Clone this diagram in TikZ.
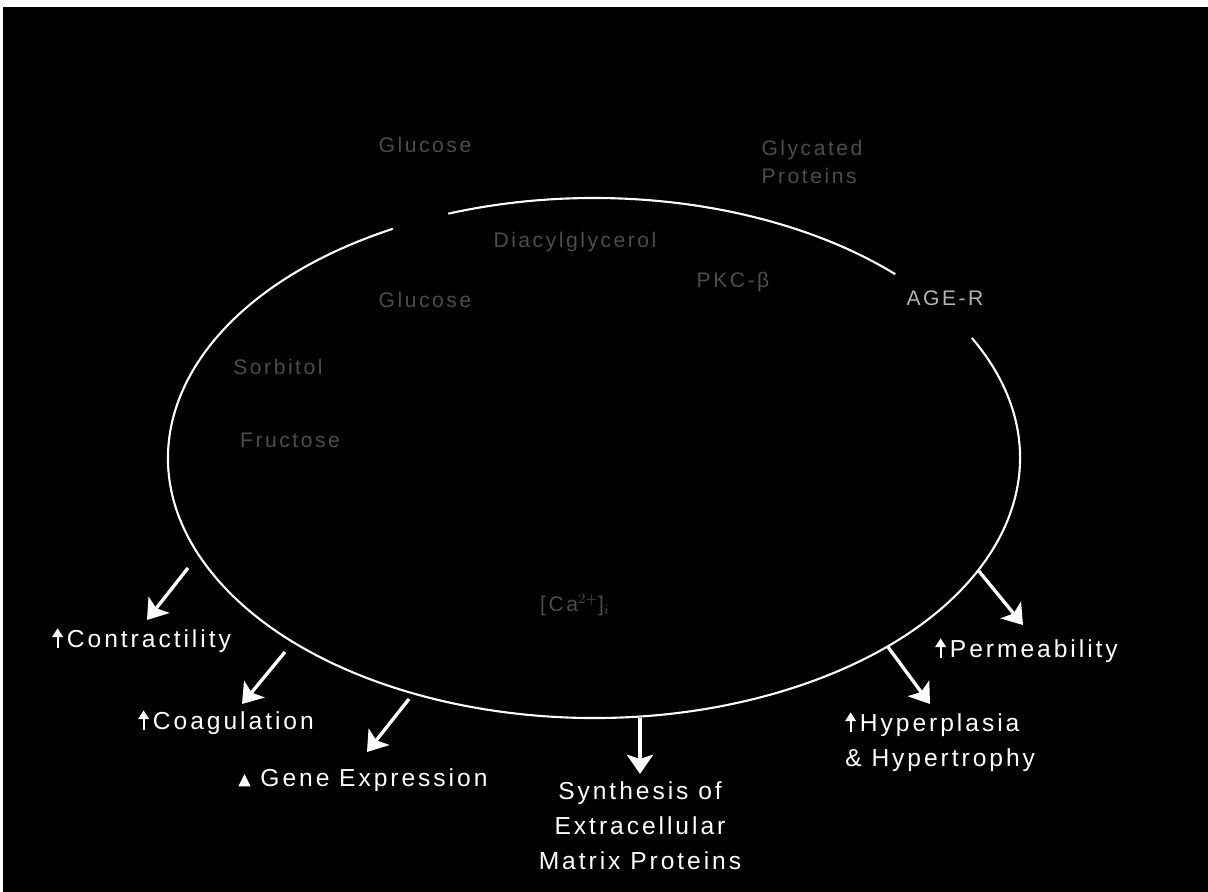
\documentclass[tikz,border=0pt]{standalone}
\usepackage{fontspec}
\setmainfont{Liberation Sans}[LetterSpace=12]
\usetikzlibrary{arrows.meta,positioning}

\definecolor{dimtext}{gray}{0.30}
\newcommand{\uparr}{\tikz[baseline=0pt]\draw[draw=white,fill=white,line width=1.2pt,-{Triangle[length=5pt,width=6pt]}] (0pt,0pt) -- (0pt,11pt);\,}
\newcommand{\uptri}{\tikz[baseline=0pt]\fill[white] (0pt,0pt) -- (7pt,0pt) -- (3.5pt,7pt) -- cycle;}

\begin{document}
\begin{tikzpicture}[x=0.02cm,y=-0.02cm,
    effect/.style={text=white, font=\fontsize{14}{20}\selectfont, inner sep=0pt},
    faint/.style={text=dimtext, font=\fontsize{12}{16}\selectfont, inner sep=0pt},
    outarrow/.style={white, line width=1.9pt, -{Stealth[length=11pt,width=15pt,inset=2.5pt]}},
    membrane/.style={white, line width=1.2pt},
  ]
  \useasboundingbox (0,0) rectangle (1208,892);
  \fill[white] (0,0) rectangle (1208,892);
  \fill[black] (3,7) rectangle (1208,892);

  % cell membrane, open where the inputs cross it
  \draw[membrane] (594,458) ++(-110:426 and 260)
    arc[start angle=-110, end angle=-45, x radius=426, y radius=260];
  \draw[membrane] (594,458) ++(-27.5:426 and 260)
    arc[start angle=-27.5, end angle=241.8, x radius=426, y radius=260];

  % inputs and pathway
  \node[faint] (glcout) at (425,145) {Glucose};
  \node[faint, align=left] (glyc) at (812,162) {Glycated\\Proteins};
  \node[faint] (dag) at (575,242) {Diacylglycerol};
  \node[faint] (pkc) at (733,282) {PKC-β};
  \node[faint, text=white!70!black] (ager) at (945,298) {AGE-R};
  \node[faint] (glcin) at (425,300) {Glucose};
  \node[faint] (sorb) at (278,367) {Sorbitol};
  \node[faint] (fruc) at (290,440) {Fructose};
  \node[faint] (calc) at (575,605) {[Ca$^{2+}$]$_i$};

  % effects
  \node[effect, anchor=west] (contract) at (52,640) {\uparr Contractility};
  \node[effect, anchor=west] (coag) at (138,722) {\uparr Coagulation};
  \node[effect, anchor=west] (gene) at (238,780) {\uptri\ Gene Expression};
  \node[effect, align=center, anchor=north] (ecm) at (640,781) {Synthesis of\\Extracellular\\Matrix Proteins};
  \node[effect, anchor=west] (perm) at (935,650) {\uparr Permeability};
  \node[effect, align=left, anchor=north west] (hyper) at (845,711) {\uparr Hyperplasia\\\& Hypertrophy};

  \coordinate (contractA) at (188,568);
  \coordinate (contractB) at (147,620);
  \coordinate (coagA) at (285,652);
  \coordinate (coagB) at (242,704);
  \coordinate (geneA) at (409,699);
  \coordinate (geneB) at (367,752);
  \coordinate (ecmA) at (640,718);
  \coordinate (permA) at (978,570);
  \coordinate (permB) at (1023,625);
  \coordinate (hyperA) at (888,647);
  \coordinate (hyperB) at (930,704);

  \draw[outarrow] (contractA) -- (contractB);
  \draw[outarrow] (coagA) -- (coagB);
  \draw[outarrow] (geneA) -- (geneB);
  \draw[outarrow] (ecmA) -- ([yshift=4pt]ecm.north);
  \draw[outarrow] (permA) -- (permB);
  \draw[outarrow] (hyperA) -- (hyperB);
\end{tikzpicture}
\end{document}
